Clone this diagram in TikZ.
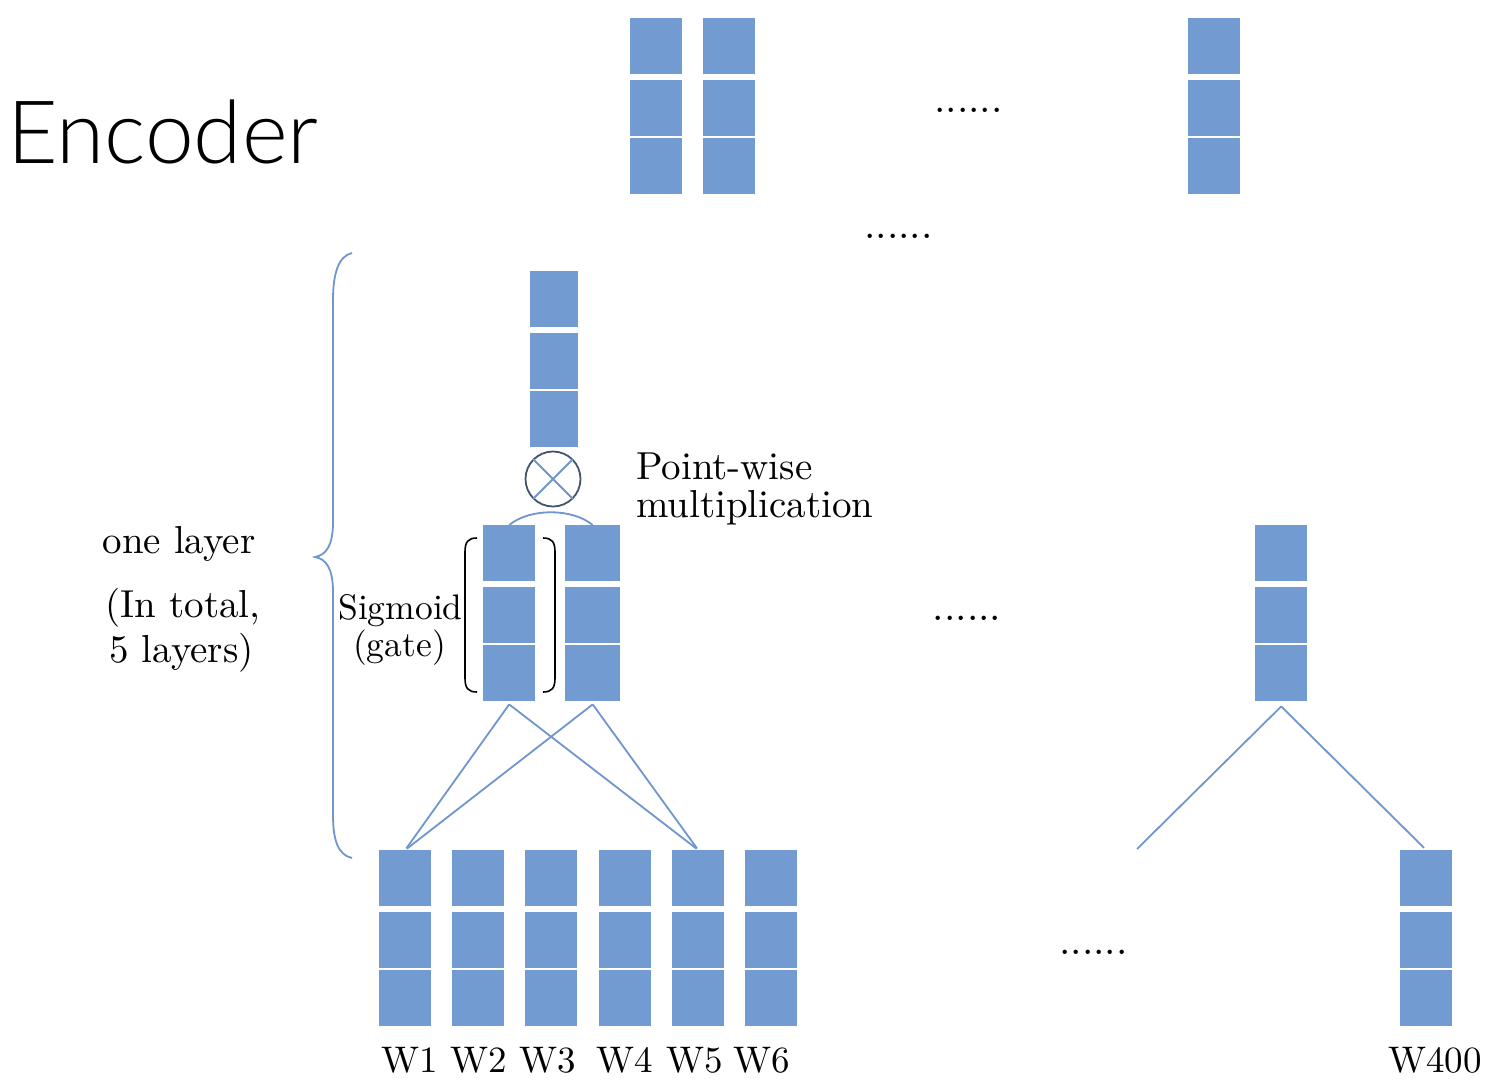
\documentclass[tikz,border=0pt]{standalone}
\usepackage{fontspec}
\usepackage{graphicx}
\setmainfont{lmroman10-regular}[Extension=.otf]
\newfontfamily\encfont{Lato}[UprightFont={* Light}]
\definecolor{cellblue}{RGB}{114,155,210}
\definecolor{lineblue}{RGB}{111,150,205}
\definecolor{circdark}{RGB}{68,84,106}
\newcommand{\cellstack}[4]{%
  \node[cell, minimum width=#4, anchor=north west] (#1-1) at (#2,#3) {};
  \node[cell, minimum width=#4, anchor=north west] (#1-2) at (#2,#3+62) {};
  \node[cell, minimum width=#4, anchor=north west] (#1-3) at (#2,#3+120) {};
}
\tikzset{
  cell/.style={rectangle, fill=cellblue, draw=none, inner sep=0pt, minimum height=56},
  link/.style={draw=lineblue, line width=1.8pt},
  bigtxt/.style={font=\fontsize{39}{39}\selectfont, inner sep=0pt, anchor=base},
  midtxt/.style={font=\fontsize{35.5}{35.5}\selectfont, inner sep=0pt, anchor=base},
  wtxt/.style={font=\fontsize{37}{37}\selectfont, inner sep=0pt, anchor=base},
  dotstxt/.style={font=\fontsize{41}{41}\selectfont, inner sep=0pt, anchor=base},
  bracket/.style={draw=black, line width=1.6pt}
}
\begin{document}
\begin{tikzpicture}[x=1pt, y=-1pt]
\useasboundingbox[fill=white] (0,0) rectangle (1500,1082);

% title
\node[anchor=base west, inner sep=0pt, font=\encfont\fontsize{87.5}{87.5}\selectfont] (title) at (7,163) {Encoder};

% top stacks
\cellstack{t1}{630}{18}{52}
\cellstack{t2}{703}{18}{52}
\cellstack{t3}{1188}{18}{52}

% output stack
\cellstack{out}{530}{271}{48}

% gate stacks
\cellstack{g1}{483}{525}{52}
\cellstack{g2}{565}{525}{55}

% right middle stack
\cellstack{r}{1255}{525}{52}

% bottom stacks
\cellstack{b1}{379}{850}{52}
\cellstack{b2}{452}{850}{52}
\cellstack{b3}{525}{850}{52}
\cellstack{b4}{599}{850}{52}
\cellstack{b5}{672}{850}{52}
\cellstack{b6}{745}{850}{52}
\cellstack{b400}{1400}{850}{52}

% multiplication circle
\node[circle, draw=circdark, line width=1.8pt, minimum size=55, inner sep=0pt] (mul) at (553,479) {};
\draw[link] (mul.45) -- (mul.225);
\draw[link] (mul.135) -- (mul.315);

% arc over gate stacks
\draw[link] (g1-1.north) .. controls (530,508) and (572,508) .. (g2-1.north);

% connector start points just below the stacks
\coordinate (g1foot) at ([yshift=-3pt]g1-3.south);
\coordinate (g2foot) at ([yshift=-3pt]g2-3.south);
\coordinate (rfoot) at ([yshift=-5pt]r-3.south);

% connectors
\draw[link, shorten >=2pt] (g1foot) -- (b1-1.north);
\draw[link, shorten >=2pt] (g1foot) -- (b5-1.north);
\draw[link, shorten >=2pt] (g2foot) -- (b1-1.north);
\draw[link, shorten >=2pt] (g2foot) -- (b5-1.north);
\coordinate (free) at (1137,849);
\draw[link] (rfoot) -- (free);
\draw[link, shorten >=3pt] (rfoot) -- (b400-1.north);

% curly brace
\draw[link] (352,253) .. controls (338,256) and (333,275) .. (333,300) -- (333,522)
  .. controls (333,546) and (326,555) .. (315,557)
  .. controls (326,559) and (333,568) .. (333,592) -- (333,815)
  .. controls (333,840) and (338,855) .. (352,858);

% brackets
\draw[bracket] (477,538) .. controls (468,538) and (465,542) .. (465,552) -- (465,678)
  .. controls (465,688) and (468,692) .. (477,692);
\draw[bracket] (543,538) .. controls (552,538) and (555,542) .. (555,552) -- (555,678)
  .. controls (555,688) and (552,692) .. (543,692);

% texts
\node[bigtxt, anchor=base west] (pw1) at (636,479) {Point-wise};
\node[bigtxt, anchor=base west] (pw2) at (636,517) {multiplication};
\node[bigtxt] (ol) at (179,553) {one layer};
\node[bigtxt] (it1) at (183,617) {(In total,};
\node[bigtxt] (it2) at (181.5,662) {5 layers)};
\node[midtxt] (sg1) at (400.5,619) {Sigmoid};
\node[midtxt] (sg2) at (399.5,656) {(gate)};

\node[wtxt] (w1) at (410,1072) {W1};
\node[wtxt] (w2) at (479,1072) {W2};
\node[wtxt] (w3) at (548,1072) {W3};
\node[wtxt] (w4) at (625,1072) {W4};
\node[wtxt] (w5) at (695,1072) {W5};
\node[wtxt] (w6) at (762,1072) {W6};
\node[wtxt] (w400) at (1435,1072) {W400};

% dots
\node[dotstxt] (d1) at (968.5,112) {......};
\node[dotstxt] (d2) at (898.5,238) {......};
\node[dotstxt] (d3) at (967,620) {......};
\node[dotstxt] (d4) at (1093.5,954) {......};
\end{tikzpicture}
\end{document}
